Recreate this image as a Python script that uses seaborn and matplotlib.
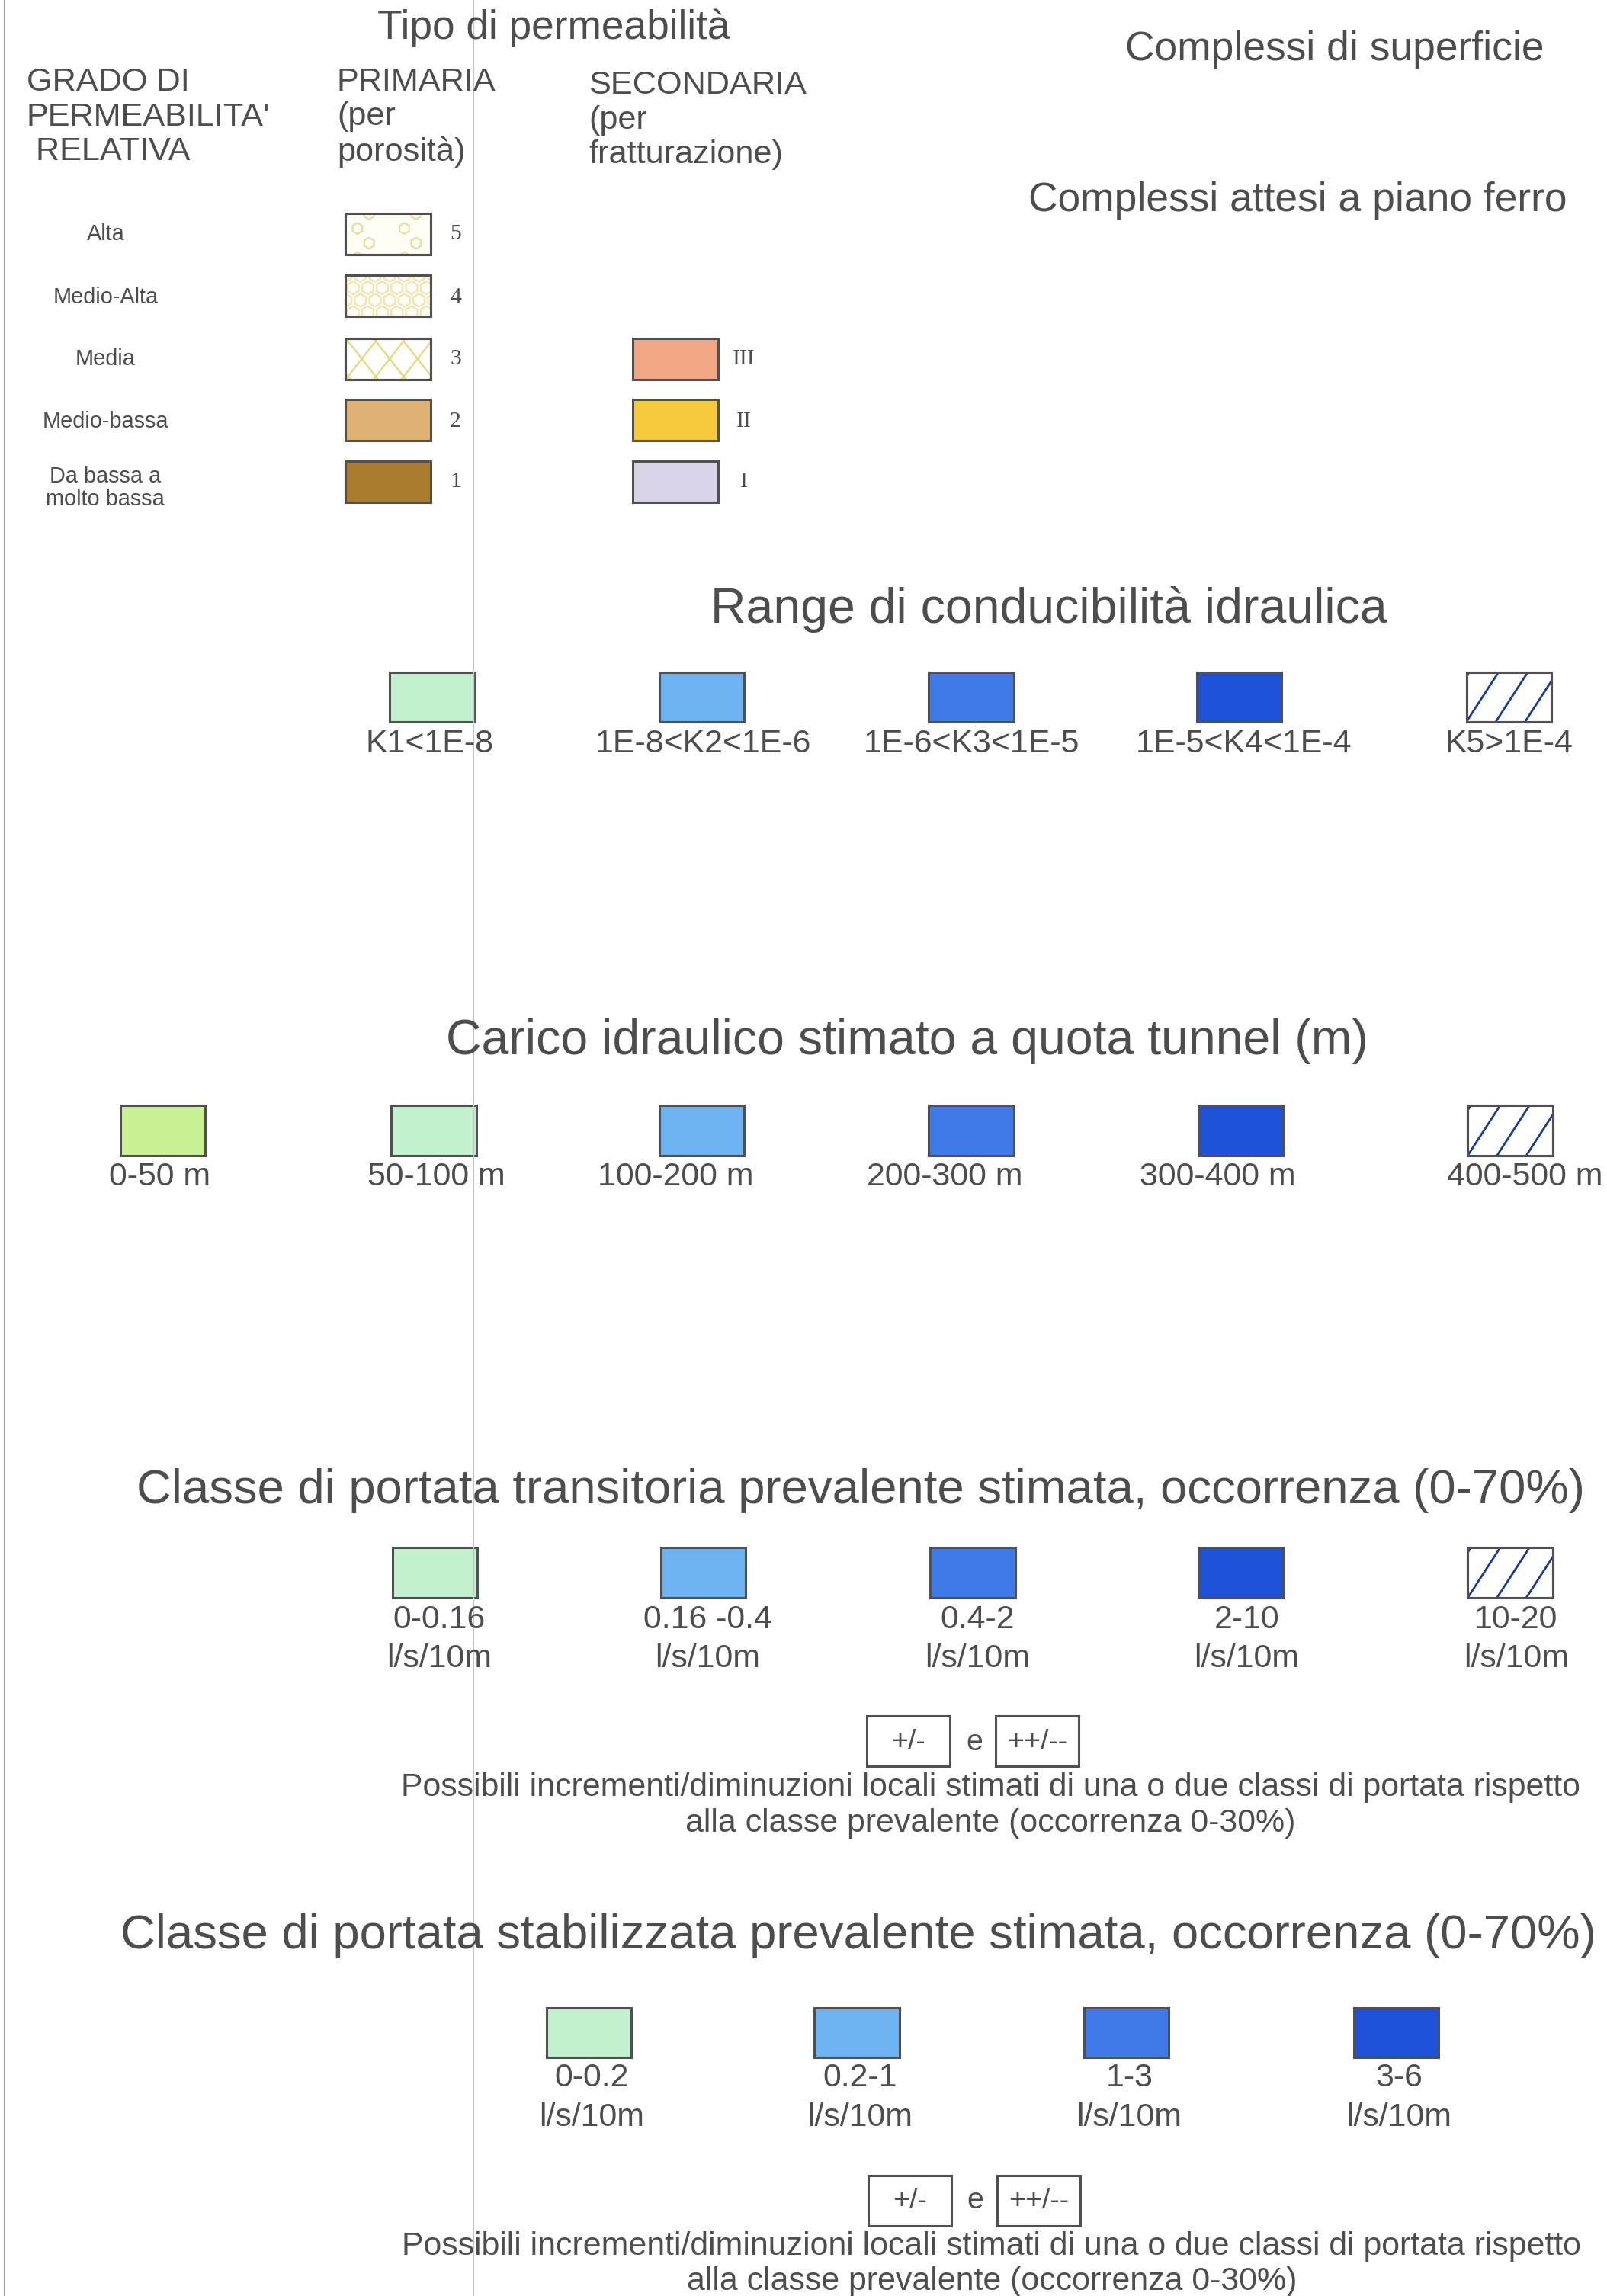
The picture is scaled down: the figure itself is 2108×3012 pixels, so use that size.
import numpy as np
import seaborn as sns
import matplotlib.pyplot as plt

perm_labels = ["Alta", "Medio-Alta", "Media", "Medio-bassa", "Da bassa a\nmolto bassa"]
prim_classes = ["5", "4", "3", "2", "1"]
prim_colors = ["#fffdf4", "#fffdf4", "#ffffff", "#ddb273", "#a97d2d"]
sec_classes = ["III", "II", "I"]
sec_colors = ["#f1a783", "#f7c93c", "#d9d3e7"]

k_labels = ["K1<1E-8", "1E-8<K2<1E-6", "1E-6<K3<1E-5", "1E-5<K4<1E-4", "K5>1E-4"]
blue_colors = ["#c3f0cf", "#6db3f1", "#3e7be9", "#1e52d9"]

head_labels = ["0-50 m", "50-100 m", "100-200 m", "200-300 m", "300-400 m", "400-500 m"]
head_colors = ["#c9f092"] + blue_colors

trans_labels = ["0-0.16", "0.16 -0.4", "0.4-2", "2-10", "10-20"]
stab_labels = ["0-0.2", "0.2-1", "1-3", "3-6"]
unit = "l/s/10m"

titles = {
    "tipo": "Tipo di permeabilità",
    "sup": "Complessi di superficie",
    "ferro": "Complessi attesi a piano ferro",
    "range": "Range di conducibilità idraulica",
    "carico": "Carico idraulico stimato a quota tunnel (m)",
    "trans": "Classe di portata transitoria prevalente stimata, occorrenza (0-70%)",
    "stab": "Classe di portata stabilizzata prevalente stimata, occorrenza (0-70%)",
}
note = ("Possibili incrementi/diminuzioni locali stimati di una o due classi di portata rispetto\n"
        "alla classe prevalente (occorrenza 0-30%)")

# ---- style ----
sns.set_theme(style="white")
plt.rcParams['font.family'] = ['Liberation Sans', 'DejaVu Sans']

INK = "#4d4d4d"
EDGE = "#505050"
PT = 1.922 * 0.72          # page px -> points
TITLE = 33.5
LAB = 22.3

fig = plt.figure(figsize=(21.08, 30.12), dpi=100)
ax = fig.add_axes([0, 0, 1, 1])
ax.set_xlim(0, 1097)
ax.set_ylim(1568, 0)
ax.axis('off')


def txt(x, y, s, px, ha='center', family=None, ls=1.2):
    ax.text(x, y, s, fontsize=px * PT, ha=ha, va='center', color=INK,
            family=family, linespacing=ls)


def boxes(xc, h, w, ytop, colors):
    ax.bar(xc, h, width=w, bottom=ytop, color=colors, edgecolor=EDGE, linewidth=2.2)


def line_box(xc, ytop, w, h, color, step, run, both=False, lw=2.0):
    bars = ax.bar([xc], h, width=w, bottom=ytop, color="white", edgecolor=EDGE, linewidth=2.2)
    clip = bars.patches[0]
    x0 = xc - w / 2
    for k in range(-4, 8):
        xb = x0 + k * step
        ln, = ax.plot([xb, xb + run], [ytop + h, ytop], color=color, lw=lw)
        ln.set_clip_path(clip)
        if both:
            ln2, = ax.plot([xb, xb + run], [ytop, ytop + h], color=color, lw=lw)
            ln2.set_clip_path(clip)
    ax.bar([xc], h, width=w, bottom=ytop, fill=False, edgecolor=EDGE, linewidth=2.2, zorder=3)


def hex_box(xc, ytop, w, h, fill, dx, dy, msize, color, sparse=False):
    bars = ax.bar([xc], h, width=w, bottom=ytop, color=fill, edgecolor=EDGE, linewidth=2.2)
    clip = bars.patches[0]
    x0 = xc - w / 2
    pts_x, pts_y = [], []
    for r, yy in enumerate(np.arange(ytop, ytop + h + dy, dy)):
        shift = dx / 2 if r % 2 else 0
        for c, xx in enumerate(np.arange(x0 - dx, x0 + w + dx, dx)):
            if sparse and (c + r) % 2:
                continue
            pts_x.append(xx + shift)
            pts_y.append(yy)
    sc = ax.scatter(pts_x, pts_y, s=msize, marker='h', facecolors='none',
                    edgecolors=color, linewidths=1.6)
    sc.set_clip_path(clip)
    ax.bar([xc], h, width=w, bottom=ytop, fill=False, edgecolor=EDGE, linewidth=2.2, zorder=3)


# scan fold lines
ax.plot([3, 3], [0, 1568], color="#888888", lw=1.2)
ax.plot([323, 323], [0, 1568], color="#c4c4c4", lw=0.9)

# ---- permeabilita block ----
txt(378, 19, titles["tipo"], 27.7)
txt(18, 80, "GRADO DI\nPERMEABILITA'\n RELATIVA", 22.5, ha='left', ls=1.17)
txt(230, 80, "PRIMARIA\n(per\nporosità)", 22.5, ha='left', ls=1.17)
txt(402, 82, "SECONDARIA\n(per\nfratturazione)", 22.5, ha='left', ls=1.17)
txt(911, 34, titles["sup"], 27.8)
txt(886, 137, titles["ferro"], 27.8)

row_y = [160, 203, 245, 288, 329]
for y, lab in zip(row_y, perm_labels):
    txt(72, y + (4 if "\n" in lab else 0), lab, 15, ls=1.1)

prim_tops = [146, 188, 231, 273, 315]
hex_box(265, prim_tops[0], 58, 28, prim_colors[0], dx=16, dy=10, msize=110,
        color="#eadba6", sparse=True)
hex_box(265, prim_tops[1], 58, 28, prim_colors[1], dx=10, dy=8.5, msize=150,
        color="#efe3b3")
line_box(265, prim_tops[2], 58, 28, "#e6d878", step=19, run=22, both=True, lw=1.6)
boxes([265, 265], 28, 58, prim_tops[3:], prim_colors[3:])
for y, c in zip(row_y, prim_classes):
    txt(311, y, c, 15.5, family='Liberation Serif')

sec_tops = [231, 273, 315]
boxes([461] * 3, 28, 58, sec_tops, sec_colors)
for y, c in zip(row_y[2:], sec_classes):
    txt(508, y, c, 15.5, family='Liberation Serif')

# ---- conducibilita ----
txt(716, 416, titles["range"], TITLE)
k_x = [295, 479, 663, 846, 1030]
boxes(k_x[:4], 34, 58, 459, blue_colors)
line_box(k_x[4], 459, 58, 34, "#1a3a9a", step=20, run=22)
for x, lab in zip([293, 480, 663, 849, 1030], k_labels):
    txt(x, 508, lab, LAB)

# ---- carico idraulico ----
txt(619, 711, titles["carico"], TITLE)
h_x = [111, 296, 479, 663, 847, 1031]
boxes(h_x[:5], 34, 58, 755, head_colors)
line_box(h_x[5], 755, 58, 34, "#1a3a9a", step=20, run=22)
for x, lab in zip([109, 298, 461, 645, 831, 1041], head_labels):
    txt(x, 804, lab, LAB)

# ---- portata transitoria ----
txt(93, 1018, titles["trans"], 33, ha='left')
t_x = [297, 480, 664, 847, 1031]
boxes(t_x[:4], 34, 58, 1057, blue_colors)
line_box(t_x[4], 1057, 58, 34, "#1a3a9a", step=20, run=22)
for x, lab in zip([300, 483, 667, 851, 1035], trans_labels):
    txt(x, 1106, lab, LAB)
    txt(x, 1133, unit, LAB)

boxes([620, 708], 34, 57, 1172, ["white", "white"])
txt(620, 1190, "+/-", 19.5)
txt(665, 1190, "e", 20.5)
txt(708, 1190, "++/--", 19.5)
txt(676, 1233, note, LAB, ls=1.2)

# ---- portata stabilizzata ----
txt(82, 1322, titles["stab"], 33, ha='left')
s_x = [402, 585, 769, 953]
boxes(s_x, 34, 58, 1371, blue_colors)
for x, lab in zip(s_x, stab_labels):
    txt(x + 2, 1419, lab, LAB)
    txt(x + 2, 1446, unit, LAB)

boxes([621, 709], 34, 57, 1486, ["white", "white"])
txt(621, 1503, "+/-", 19.5)
txt(666, 1503, "e", 20.5)
txt(709, 1503, "++/--", 19.5)
txt(677, 1546, note, LAB, ls=1.2)

fig.savefig("out.png", dpi=100, facecolor="white")
